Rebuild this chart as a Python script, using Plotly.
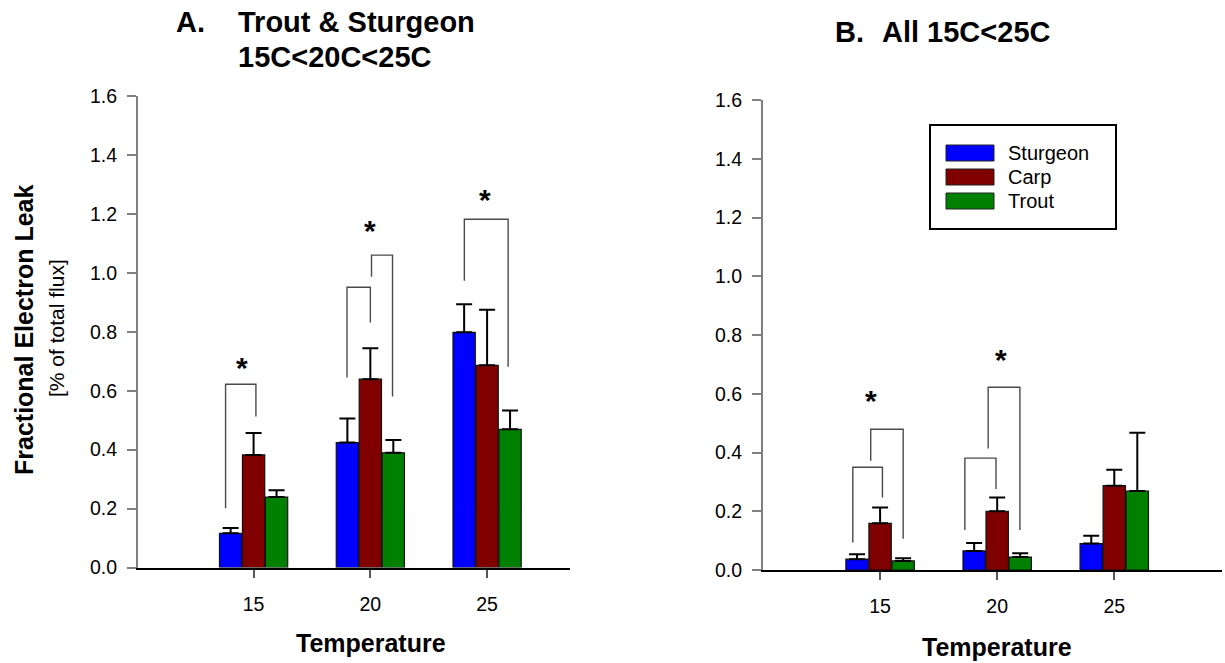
import plotly.graph_objects as go

# ---- data -------------------------------------------------------------
temperatures = ["15", "20", "25"]
species = ["Sturgeon", "Carp", "Trout"]
colors = ["#0000FF", "#800000", "#008000"]

# Panel A: Trout & Sturgeon 15C<20C<25C
a_sturgeon = [0.116, 0.424, 0.798]
a_carp = [0.382, 0.639, 0.686]
a_trout = [0.239, 0.389, 0.469]
a_sturgeon_err = [0.018, 0.082, 0.095]
a_carp_err = [0.074, 0.105, 0.189]
a_trout_err = [0.023, 0.044, 0.064]

# Panel B: All 15C<25C
b_sturgeon = [0.037, 0.065, 0.090]
b_carp = [0.159, 0.200, 0.287]
b_trout = [0.031, 0.044, 0.269]
b_sturgeon_err = [0.017, 0.027, 0.027]
b_carp_err = [0.054, 0.047, 0.054]
b_trout_err = [0.009, 0.013, 0.198]

# significance brackets: (category, left x offset, right x offset, top, left leg end, right leg end)
a_brackets = [
    (0, -0.24, 0.02, 0.622, 0.201, 0.512),
    (1, -0.20, 0.00, 0.951, 0.645, 0.831),
    (1, 0.01, 0.19, 1.060, 0.987, 0.580),
    (2, -0.195, 0.18, 1.182, 0.973, 0.681),
]
b_brackets = [
    (0, -0.233, 0.02, 0.350, 0.094, 0.247),
    (0, -0.08, 0.197, 0.479, 0.372, 0.106),
    (1, -0.276, -0.01, 0.381, 0.136, 0.276),
    (1, -0.077, 0.194, 0.622, 0.414, 0.136),
]
# asterisks: (category, x offset, y)
a_stars = [(0, -0.10, 0.698), (1, 0.0, 1.165), (2, -0.015, 1.27)]
b_stars = [(0, -0.074, 0.596), (1, 0.03, 0.738)]

y_ticks = [0.0, 0.2, 0.4, 0.6, 0.8, 1.0, 1.2, 1.4, 1.6]

FONT = "Arial, Liberation Sans, sans-serif"
W, H = 1225, 663

fig = go.Figure()
xs = list(range(len(temperatures)))

panels = [
    ("x", "y", [a_sturgeon, a_carp, a_trout], [a_sturgeon_err, a_carp_err, a_trout_err]),
    ("x2", "y2", [b_sturgeon, b_carp, b_trout], [b_sturgeon_err, b_carp_err, b_trout_err]),
]
for xa, ya, vals, errs in panels:
    for name, col, v, e in zip(species, colors, vals, errs):
        fig.add_trace(go.Bar(
            x=xs, y=v, name=name, xaxis=xa, yaxis=ya, showlegend=False,
            marker=dict(color=col, line=dict(color="#111111", width=1.2)),
            error_y=dict(type="data", symmetric=False, array=e,
                         arrayminus=[0] * len(e), color="black",
                         thickness=2, width=8),
        ))

shapes = []
annotations = []


def add_brackets(brackets, xref, yref):
    for cat, xl, xr, top, lb, rb in brackets:
        path = (f"M {cat + xl},{lb} L {cat + xl},{top} "
                f"L {cat + xr},{top} L {cat + xr},{rb}")
        shapes.append(dict(type="path", path=path, xref=xref, yref=yref,
                           line=dict(color="#4a4a4a", width=1.4)))


def add_stars(stars, xref, yref):
    for cat, dx, y in stars:
        annotations.append(dict(x=cat + dx, y=y, xref=xref, yref=yref,
                                text="<b>*</b>", showarrow=False,
                                font=dict(family=FONT, size=30, color="black"),
                                yanchor="middle", xanchor="center", yshift=-6))


add_brackets(a_brackets, "x", "y")
add_brackets(b_brackets, "x2", "y2")
add_stars(a_stars, "x", "y")
add_stars(b_stars, "x2", "y2")

# panel titles
annotations += [
    dict(x=174 / W, y=1 - 22 / H, text="<b>A.</b>"),
    dict(x=236 / W, y=1 - 22 / H, text="<b>Trout &amp; Sturgeon</b>"),
    dict(x=236 / W, y=1 - 57 / H, text="<b>15C&lt;20C&lt;25C</b>"),
    dict(x=833 / W, y=1 - 32 / H, text="<b>B.</b>"),
    dict(x=880 / W, y=1 - 32 / H, text="<b>All 15C&lt;25C</b>"),
]
for ann in annotations[-5:]:
    ann.update(xref="paper", yref="paper", showarrow=False, xanchor="left",
               yanchor="middle", font=dict(family=FONT, size=29, color="black"))

# axis titles
for xc, yc in [(371 / W, 1 - 643 / H), (997 / W, 1 - 647 / H)]:
    annotations.append(dict(x=xc, y=yc, xref="paper", yref="paper",
                            text="<b>Temperature</b>", showarrow=False,
                            xanchor="center", yanchor="middle",
                            font=dict(family=FONT, size=25, color="black")))
annotations.append(dict(x=24 / W, y=1 - 330 / H, xref="paper", yref="paper",
                        text="<b>Fractional Electron Leak</b>", showarrow=False,
                        textangle=-90, xanchor="center", yanchor="middle",
                        font=dict(family=FONT, size=25, color="black")))
annotations.append(dict(x=56 / W, y=1 - 328 / H, xref="paper", yref="paper",
                        text="[% of total flux]", showarrow=False,
                        textangle=-90, xanchor="center", yanchor="middle",
                        font=dict(family=FONT, size=21, color="black")))

# legend box drawn in panel B
lx0, lx1, ly0, ly1 = 930, 1116, 125, 229
shapes.append(dict(type="rect", xref="paper", yref="paper",
                   x0=lx0 / W, x1=lx1 / W, y0=1 - ly1 / H, y1=1 - ly0 / H,
                   line=dict(color="black", width=2), fillcolor="white"))
for i, (name, col) in enumerate(zip(species, colors)):
    cy = 153 + 24 * i
    shapes.append(dict(type="rect", xref="paper", yref="paper",
                       x0=946 / W, x1=994 / W, y0=1 - (cy + 8) / H,
                       y1=1 - (cy - 8) / H, fillcolor=col,
                       line=dict(color="#222222", width=1)))
    annotations.append(dict(x=1006 / W, y=1 - cy / H, xref="paper", yref="paper",
                            text=name, showarrow=False, xanchor="left",
                            yanchor="middle",
                            font=dict(family=FONT, size=20, color="black")))

xaxis_common = dict(tickvals=xs, ticktext=temperatures, showgrid=False,
                    zeroline=False, showline=True, linecolor="black", linewidth=2,
                    ticks="outside", ticklen=8, tickwidth=2, tickcolor="#555555",
                    tickfont=dict(family=FONT, size=19.5, color="black"),
                    ticklabelstandoff=10, automargin=False)
yaxis_common = dict(range=[0, 1.6], tickvals=y_ticks,
                    ticktext=[f"{t:.1f}" for t in y_ticks], showgrid=False,
                    zeroline=False, showline=True, linecolor="#808080", linewidth=2,
                    ticks="outside", ticklen=9, tickwidth=2, tickcolor="#808080",
                    tickfont=dict(family=FONT, size=19.5, color="black"),
                    ticklabelstandoff=6, automargin=False)

fig.update_layout(
    width=W, height=H, autosize=False,
    margin=dict(l=0, r=0, t=0, b=0, pad=0, autoexpand=False),
    paper_bgcolor="white", plot_bgcolor="white",
    barmode="group", bargap=0.41, bargroupgap=0.03,
    showlegend=False,
    xaxis=dict(domain=[138 / W, 570 / W], range=[-0.99, 2.71], anchor="y",
               **xaxis_common),
    yaxis=dict(domain=[1 - 567.5 / H, 1 - 96 / H], anchor="x", **yaxis_common),
    xaxis2=dict(domain=[763 / W, 1222 / W], range=[-1.0, 2.92], anchor="y2",
                **xaxis_common),
    yaxis2=dict(domain=[1 - 570 / H, 1 - 100 / H], anchor="x2", **yaxis_common),
    shapes=shapes, annotations=annotations,
)

fig.write_html("out.html")
